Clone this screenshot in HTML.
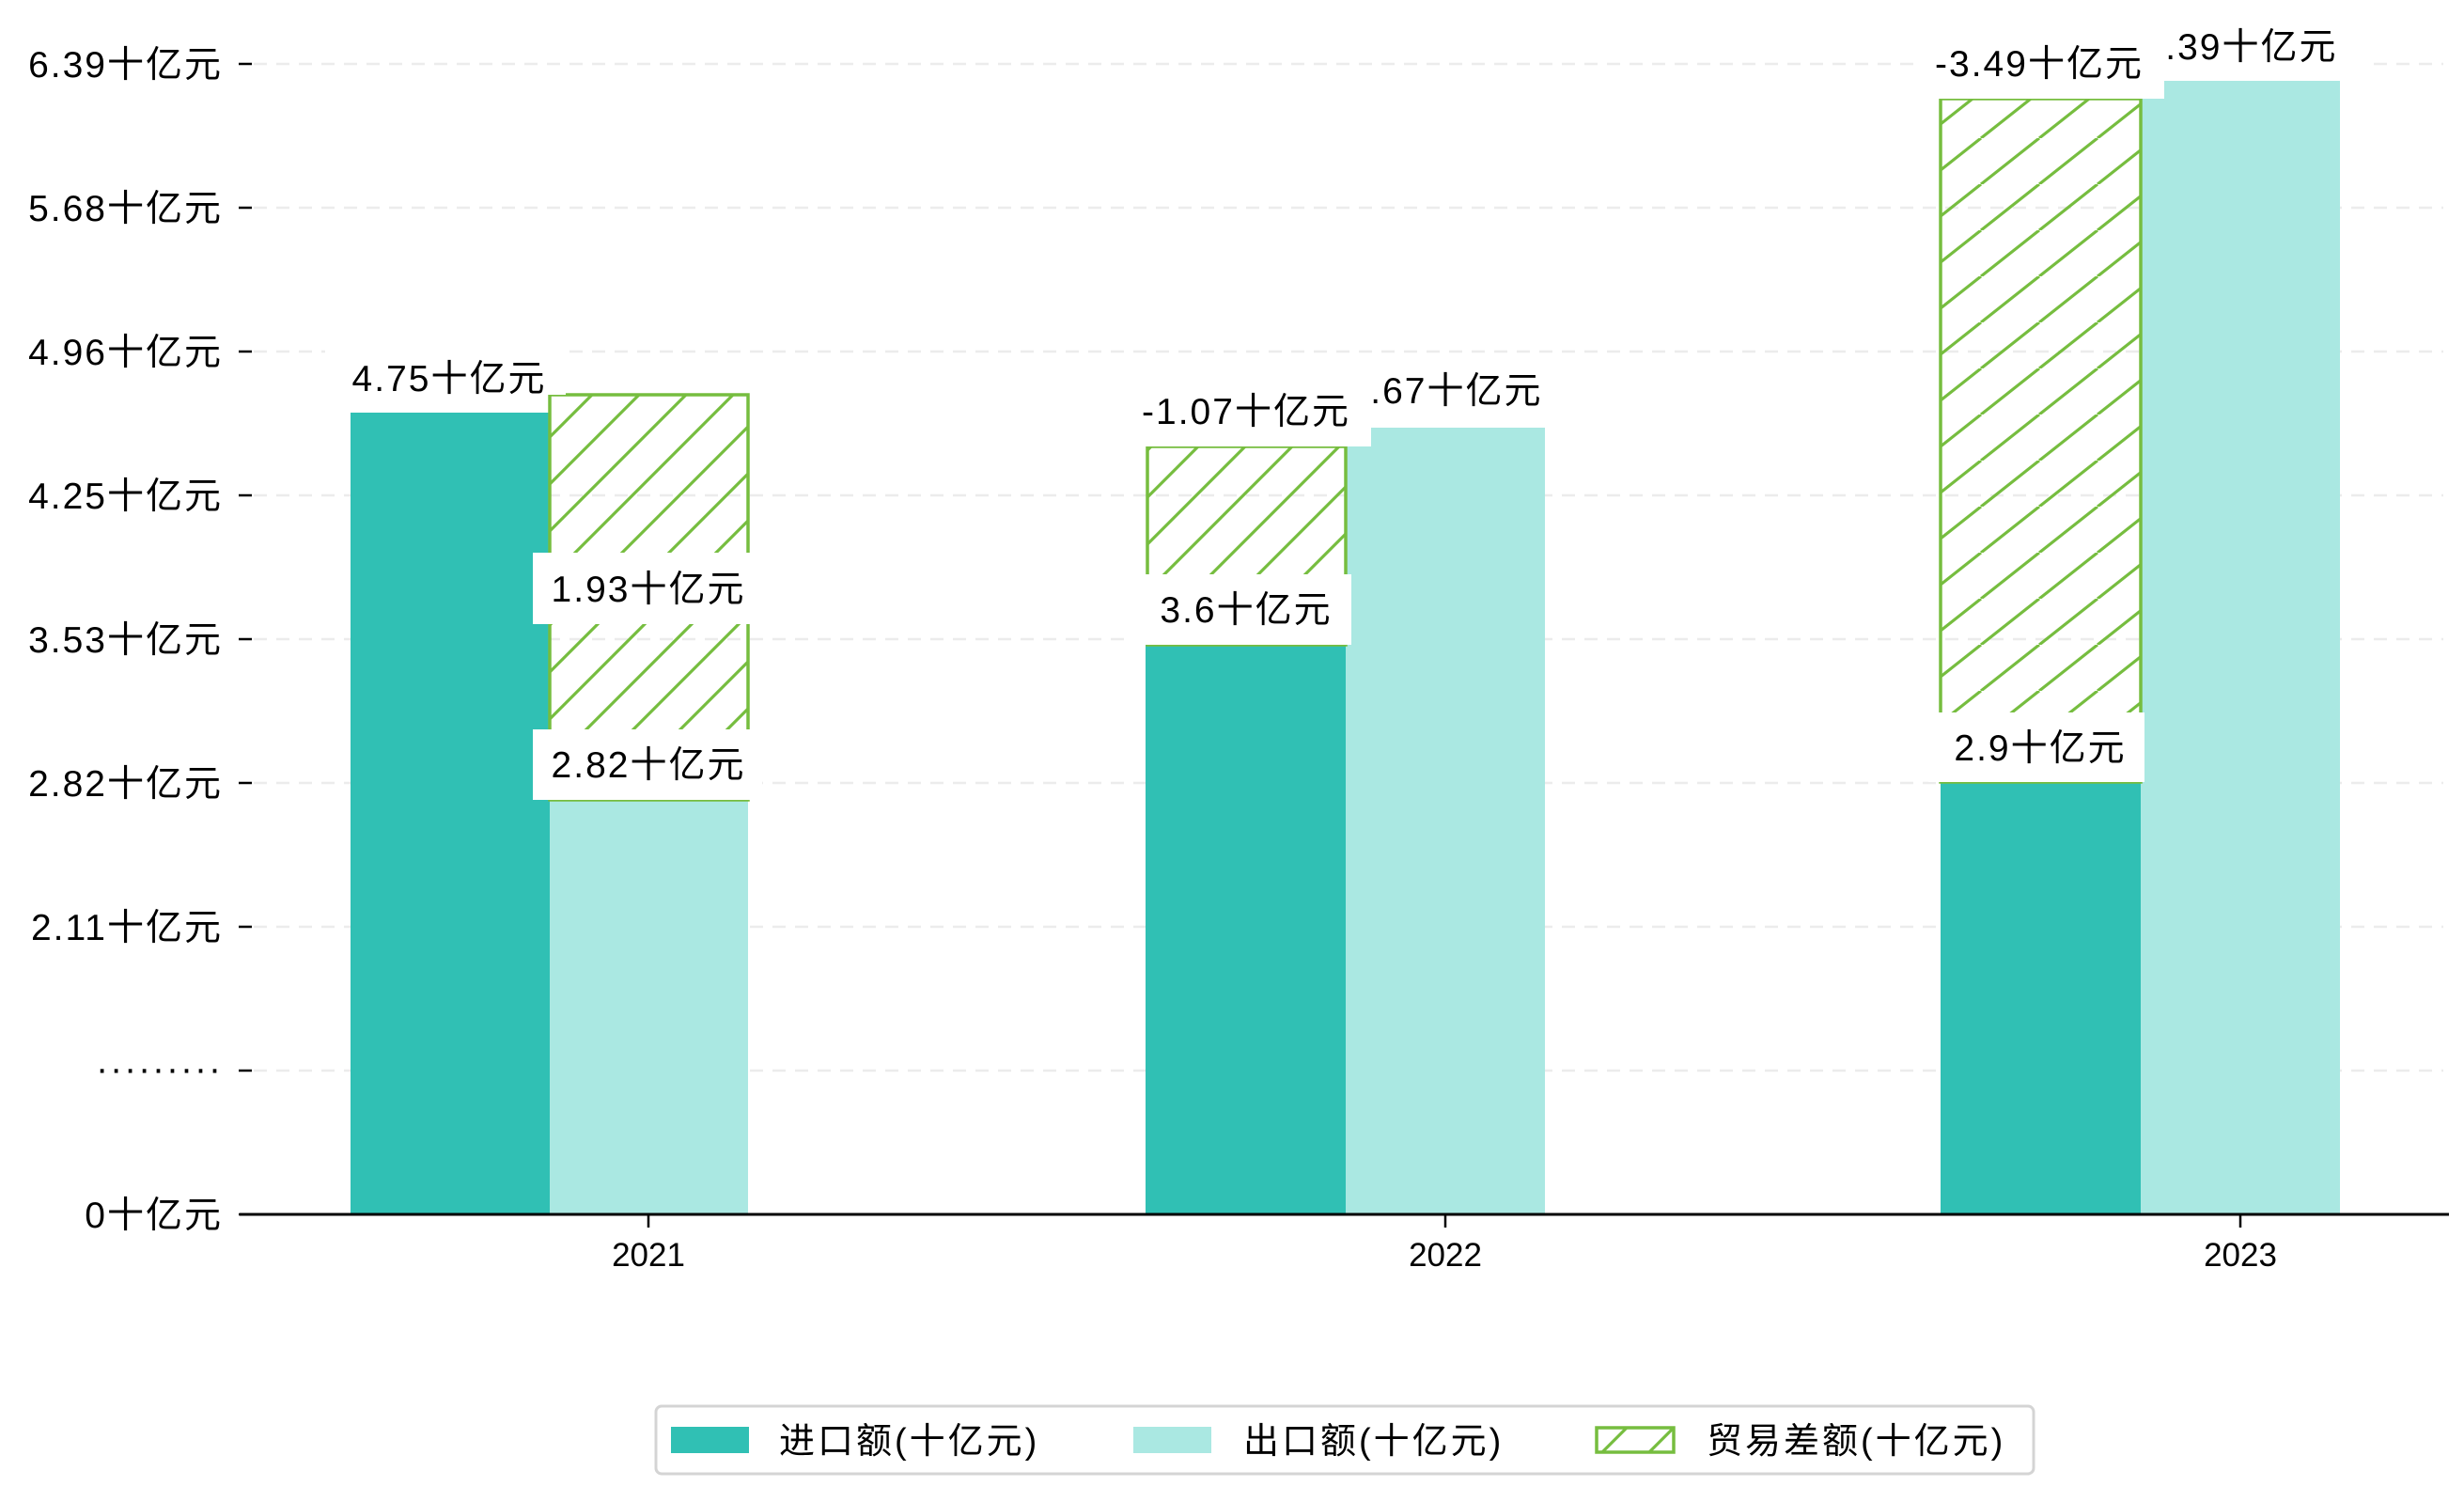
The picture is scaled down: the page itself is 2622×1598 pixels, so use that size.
<!DOCTYPE html>
<html><head><meta charset="utf-8"><style>
html,body{margin:0;padding:0;background:#fff;}
svg{display:block;}
text{font-family:"Liberation Sans","Noto Sans CJK SC",sans-serif;fill:#000;}
</style></head><body>
<svg width="2622" height="1598" viewBox="0 0 2622 1598" xmlns="http://www.w3.org/2000/svg">
<defs>
<pattern id="h1" patternUnits="userSpaceOnUse" width="50" height="50" x="0" y="0">
<line x1="-5" y1="55" x2="55" y2="-5" stroke="#76bd3f" stroke-width="3.2"/>
<line x1="-55" y1="55" x2="5" y2="-5" stroke="#76bd3f" stroke-width="3.2"/>
<line x1="45" y1="55" x2="105" y2="-5" stroke="#76bd3f" stroke-width="3.2"/>
</pattern>
<pattern id="h3" patternUnits="userSpaceOnUse" width="62" height="49" x="0" y="0">
<line x1="0" y1="49" x2="62" y2="0" stroke="#76bd3f" stroke-width="3.2"/>
<line x1="-62" y1="49" x2="0" y2="0" stroke="#76bd3f" stroke-width="3.2"/>
<line x1="62" y1="49" x2="124" y2="0" stroke="#76bd3f" stroke-width="3.2"/>
</pattern>
</defs>
<g stroke="#ececec" stroke-width="2.5" stroke-dasharray="14,10">
<line x1="270" y1="68" x2="2600" y2="68"/>
<line x1="270" y1="221" x2="2600" y2="221"/>
<line x1="270" y1="374" x2="2600" y2="374"/>
<line x1="270" y1="527" x2="2600" y2="527"/>
<line x1="270" y1="680" x2="2600" y2="680"/>
<line x1="270" y1="833" x2="2600" y2="833"/>
<line x1="270" y1="986" x2="2600" y2="986"/>
<line x1="270" y1="1139" x2="2600" y2="1139"/>
</g>
<g stroke="#000" stroke-width="2.5">
<line x1="254" y1="68" x2="268" y2="68"/>
<line x1="254" y1="221" x2="268" y2="221"/>
<line x1="254" y1="374" x2="268" y2="374"/>
<line x1="254" y1="527" x2="268" y2="527"/>
<line x1="254" y1="680" x2="268" y2="680"/>
<line x1="254" y1="833" x2="268" y2="833"/>
<line x1="254" y1="986" x2="268" y2="986"/>
<line x1="254" y1="1139" x2="268" y2="1139"/>
<line x1="254" y1="1292" x2="268" y2="1292"/>
</g>
<g font-size="39" text-anchor="end" letter-spacing="2">
<text x="237" y="82">6.39十亿元</text>
<text x="237" y="235">5.68十亿元</text>
<text x="237" y="388">4.96十亿元</text>
<text x="237" y="541">4.25十亿元</text>
<text x="237" y="694">3.53十亿元</text>
<text x="237" y="847">2.82十亿元</text>
<text x="237" y="1000">2.11十亿元</text>
<text x="237" y="1150">·········</text>
<text x="237" y="1306">0十亿元</text>
</g>
<rect x="373" y="439" width="212" height="853" fill="#30c0b4"/>
<rect x="585" y="851" width="211" height="441" fill="#aae8e2"/>
<rect x="585" y="420" width="211" height="431" fill="url(#h1)" stroke="#76bd3f" stroke-width="3.5"/>

<rect x="1219" y="686" width="213" height="606" fill="#30c0b4"/>
<rect x="1432" y="455" width="212" height="837" fill="#aae8e2"/>
<rect x="1221" y="475" width="211" height="211" fill="url(#h1)" stroke="#76bd3f" stroke-width="3.5"/>

<rect x="2065" y="832" width="213" height="460" fill="#30c0b4"/>
<rect x="2278" y="86" width="212" height="1206" fill="#aae8e2"/>
<rect x="2065" y="105" width="213" height="727" fill="url(#h3)" stroke="#76bd3f" stroke-width="3.5"/>

<line x1="255" y1="1292" x2="2606" y2="1292" stroke="#000" stroke-width="3"/>
<g stroke="#000" stroke-width="2.5">
<line x1="690" y1="1292" x2="690" y2="1306"/>
<line x1="1538" y1="1292" x2="1538" y2="1306"/>
<line x1="2384" y1="1292" x2="2384" y2="1306"/>
</g>
<g font-size="35" text-anchor="middle">
<text x="690" y="1347">2021</text>
<text x="1538" y="1347">2022</text>
<text x="2384" y="1347">2023</text>
</g>
<g font-size="39" text-anchor="middle" letter-spacing="2">
<rect x="346" y="364" width="256" height="56" fill="#fff"/>
<text x="478" y="416">4.75十亿元</text>
<rect x="567" y="776" width="244" height="75" fill="#fff"/>
<text x="690" y="827">2.82十亿元</text>
<rect x="567" y="588" width="233" height="76" fill="#fff"/>
<text x="690" y="640">1.93十亿元</text>

<rect x="1203" y="611" width="235" height="75" fill="#fff"/>
<text x="1326" y="662">3.6十亿元</text>
<rect x="1406" y="377" width="264" height="76" fill="#fff"/>
<text x="1538" y="429">4.67十亿元</text>
<rect x="1195" y="399" width="264" height="76" fill="#fff"/>
<text x="1326" y="451">-1.07十亿元</text>

<rect x="2052" y="758" width="230" height="74" fill="#fff"/>
<text x="2171" y="809">2.9十亿元</text>
<rect x="2252" y="11" width="264" height="75" fill="#fff"/>
<text x="2384" y="63">6.39十亿元</text>
<rect x="2038" y="29" width="265" height="76" fill="#fff"/>
<text x="2170" y="81">-3.49十亿元</text>
</g>
<rect x="698" y="1496" width="1466" height="72" rx="6" fill="#fff" stroke="#d4d4d4" stroke-width="3"/>
<rect x="714" y="1518" width="83" height="28" fill="#30c0b4"/>
<rect x="1206" y="1518" width="83" height="28" fill="#aae8e2"/>
<rect x="1699" y="1519" width="82" height="26" fill="url(#h1)" stroke="#76bd3f" stroke-width="3.5"/>
<g font-size="38" letter-spacing="3">
<text x="829" y="1546">进口额(十亿元)</text>
<text x="1323" y="1546">出口额(十亿元)</text>
<text x="1816" y="1546">贸易差额(十亿元)</text>
</g>
</svg>
</body></html>
